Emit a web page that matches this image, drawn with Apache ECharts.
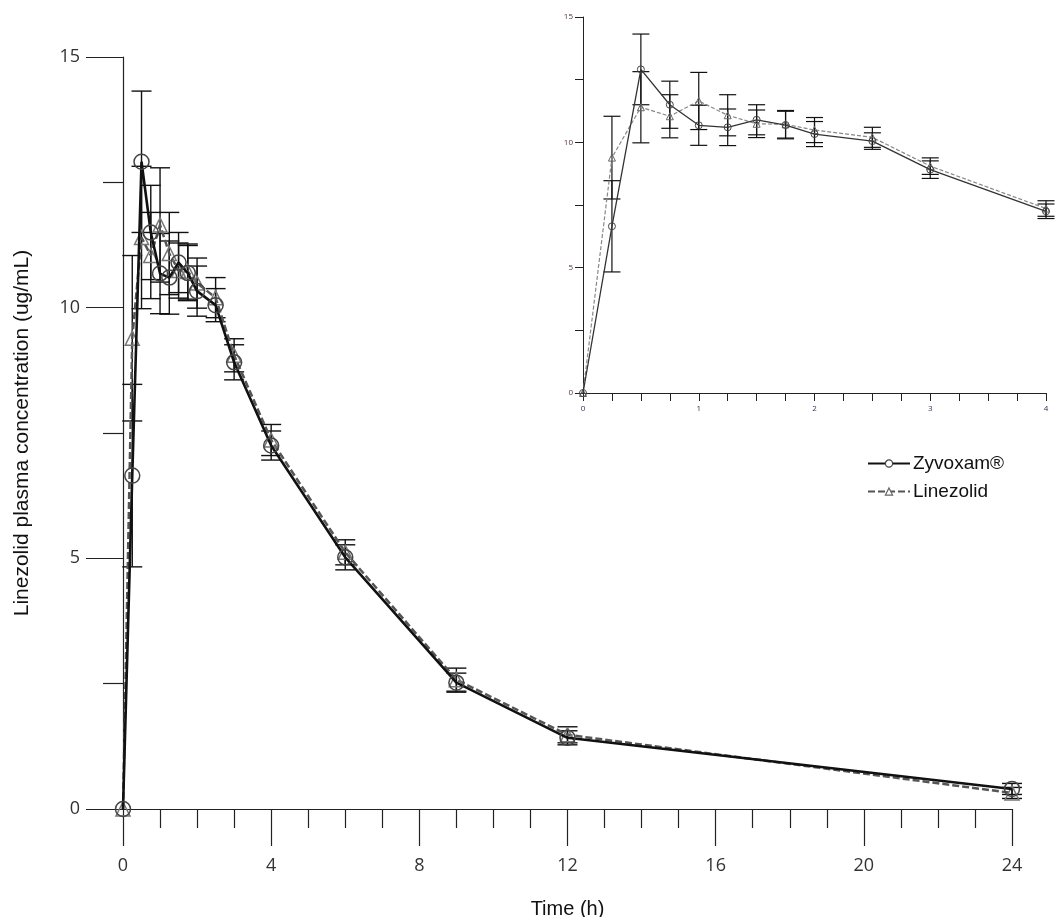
<!DOCTYPE html>
<html>
<head>
<meta charset="utf-8">
<title>Linezolid plasma concentration</title>
<script src="https://cdn.jsdelivr.net/npm/echarts@6/dist/echarts.min.js"></script>
<style>
	html, body { margin : 0; padding : 0; background : #fff; }
	#chart { width : 1061px; height : 917px; }
</style>
</head>
<body>
<div id="chart"></div>
<script>
	// sampling times (h)
	var times = [ 0, 0.25, 0.5, 0.75, 1, 1.25, 1.5, 1.75, 2, 2.5, 3, 4, 6, 9, 12, 24 ];
	// Zyvoxam mean / SD (ug/mL)
	var zyvMean = [ 0, 6.65, 12.91, 11.50, 10.68, 10.60, 10.90, 10.69, 10.33, 10.05,
			8.91, 7.25, 5.02, 2.52, 1.42, 0.40 ];
	var zyvSd = [ 0, 1.82, 1.41, 0.94, 0.80, 0.73, 0.60, 0.55, 0.50, 0.33, 0.35,
			0.29, 0.25, 0.19, 0.14, 0.11 ];
	// Linezolid mean / SD (ug/mL)
	var linMean = [ 0, 9.39, 11.40, 11.04, 11.65, 11.08, 10.74, 10.72, 10.49, 10.20,
			9.05, 7.36, 5.12, 2.58, 1.48, 0.32 ];
	var linSd = [ 0, 1.65, 1.42, 0.86, 1.14, 0.82, 0.55, 0.55, 0.50, 0.40, 0.33,
			0.31, 0.25, 0.23, 0.16, 0.11 ];
	// axis ticks
	var mainXTicks = [ 0, 4, 8, 12, 16, 20, 24 ];
	var mainYTicks = [ 0, 5, 10, 15 ];
	var insetXTicks = [ 0, 1, 2, 3, 4 ];
	var insetYTicks = [ 0, 5, 10, 15 ];
	var insetMaxTime = 4;

	var fontMain = 'Open Sans';
	var fontTitle = 'Liberation Sans';

	function points(mean, maxT) {
		var out = [];
		for (var i = 0; i < times.length; i++) {
			if (maxT == null || times[i] <= maxT) {
				out.push([ times[i], mean[i] ]);
			}
		}
		return out;
	}

	function bars(mean, sd, maxT) {
		var out = [];
		for (var i = 0; i < times.length; i++) {
			if (sd[i] > 0 && (maxT == null || times[i] <= maxT)) {
				out.push([ times[i], mean[i] - sd[i], mean[i] + sd[i] ]);
			}
		}
		return out;
	}

	/**
	 * error bar with caps, drawn through the axis scales
	 */
	function errorBarRenderer(capWidth, lineWidth) {
		return function(params, api) {
			var x = api.value(0);
			var top = api.coord([ x, api.value(2) ]);
			var bot = api.coord([ x, api.value(1) ]);
			var hw = capWidth / 2;
			var style = {
				stroke : '#111',
				lineWidth : lineWidth
			};
			return {
				type : 'group',
				children : [ {
					type : 'line',
					shape : { x1 : top[0], y1 : top[1], x2 : bot[0], y2 : bot[1] },
					style : style
				}, {
					type : 'line',
					shape : { x1 : top[0] - hw, y1 : top[1], x2 : top[0] + hw, y2 : top[1] },
					style : style
				}, {
					type : 'line',
					shape : { x1 : bot[0] - hw, y1 : bot[1], x2 : bot[0] + hw, y2 : bot[1] },
					style : style
				} ]
			};
		};
	}

	function tickFormatter(list) {
		return function(v) {
			for (var i = 0; i < list.length; i++) {
				if (Math.abs(list[i] - v) < 1e-6) {
					return String(list[i]);
				}
			}
			return '';
		};
	}

	var chart = echarts.init(document.getElementById('chart'));

	var option = {
		animation : false,
		backgroundColor : '#fff',
		legend : {
			left : 862,
			top : 449,
			orient : 'vertical',
			itemWidth : 42,
			itemHeight : 9,
			itemGap : 9,
			data : [ {
				name : 'Zyvoxam®',
				itemStyle : { color : '#fff', borderColor : '#444', borderWidth : 1.2 }
			}, {
				name : 'Linezolid',
				itemStyle : { color : '#fff', borderColor : '#666', borderWidth : 1.2 }
			} ],
			textStyle : {
				fontFamily : fontTitle,
				fontSize : 19,
				color : '#111',
				padding : [ 0, 0, 0, -2 ]
			}
		},
		grid : [ {
			left : 123,
			right : 49,
			top : 57,
			bottom : 108,
			outerBoundsMode : 'none'
		}, {
			left : 583,
			right : 15,
			top : 17,
			bottom : 524,
			outerBoundsMode : 'none'
		} ],
		xAxis : [ {
			gridIndex : 0,
			type : 'value',
			min : 0,
			max : 24,
			interval : 4,
			name : 'Time (h)',
			nameLocation : 'middle',
			nameGap : 90,
			nameTextStyle : {
				fontFamily : fontTitle,
				fontSize : 20,
				color : '#111'
			},
			axisLine : { lineStyle : { color : '#222', width : 1.2 } },
			axisTick : { length : 37, lineStyle : { color : '#222', width : 1.2 } },
			minorTick : { show : true, splitNumber : 4, length : 19,
				lineStyle : { color : '#222', width : 1.2 } },
			splitLine : { show : false },
			axisLabel : {
				margin : 48,
				fontFamily : fontMain,
				fontSize : 18,
				color : '#333',
				formatter : tickFormatter(mainXTicks)
			}
		}, {
			gridIndex : 1,
			type : 'value',
			min : 0,
			max : insetMaxTime,
			interval : 0.25,
			axisLine : { lineStyle : { color : '#222', width : 1 } },
			axisTick : { length : 8, lineStyle : { color : '#222', width : 1 } },
			splitLine : { show : false },
			axisLabel : {
				margin : 12,
				fontFamily : fontMain,
				fontSize : 8,
				color : '#335',
				formatter : tickFormatter(insetXTicks)
			}
		} ],
		yAxis : [ {
			gridIndex : 0,
			type : 'value',
			min : 0,
			max : 15,
			interval : 5,
			name : 'Linezolid plasma concentration (ug/mL)',
			nameLocation : 'middle',
			nameGap : 90,
			nameTextStyle : {
				fontFamily : fontTitle,
				fontSize : 21,
				color : '#111'
			},
			axisLine : { show : true, lineStyle : { color : '#222', width : 1.2 } },
			axisTick : { show : true, length : 37, lineStyle : { color : '#222', width : 1.2 } },
			minorTick : { show : true, splitNumber : 2, length : 20,
				lineStyle : { color : '#222', width : 1.2 } },
			splitLine : { show : false },
			axisLabel : {
				margin : 43,
				fontFamily : fontMain,
				fontSize : 18,
				color : '#333',
				formatter : tickFormatter(mainYTicks)
			}
		}, {
			gridIndex : 1,
			type : 'value',
			min : 0,
			max : 15,
			interval : 2.5,
			axisLine : { show : true, lineStyle : { color : '#222', width : 1 } },
			axisTick : { show : true, length : 8, lineStyle : { color : '#222', width : 1 } },
			splitLine : { show : false },
			axisLabel : {
				margin : 10,
				fontFamily : fontMain,
				fontSize : 8,
				color : '#533',
				formatter : tickFormatter(insetYTicks)
			}
		} ],
		series : [
		// main chart
		{
			name : 'zyv-err',
			type : 'custom',
			xAxisIndex : 0,
			yAxisIndex : 0,
			renderItem : errorBarRenderer(20, 1.4),
			encode : { x : 0, y : [ 1, 2 ] },
			data : bars(zyvMean, zyvSd),
			z : 1
		}, {
			name : 'lin-err',
			type : 'custom',
			xAxisIndex : 0,
			yAxisIndex : 0,
			renderItem : errorBarRenderer(20, 1.4),
			encode : { x : 0, y : [ 1, 2 ] },
			data : bars(linMean, linSd),
			z : 1
		}, {
			name : 'Linezolid',
			type : 'line',
			xAxisIndex : 0,
			yAxisIndex : 0,
			symbol : 'triangle',
			symbolSize : 14,
			itemStyle : { color : 'rgba(255,255,255,0)', borderColor : '#777', borderWidth : 1.5 },
			lineStyle : { color : '#555', width : 2.5, type : [ 7, 3 ] },
			data : points(linMean),
			z : 2
		}, {
			name : 'Zyvoxam®',
			type : 'line',
			xAxisIndex : 0,
			yAxisIndex : 0,
			symbol : 'circle',
			symbolSize : 15,
			itemStyle : { color : 'rgba(255,255,255,0)', borderColor : '#444', borderWidth : 1.5 },
			lineStyle : { color : '#111', width : 2.6 },
			data : points(zyvMean),
			z : 3
		},
		// inset 0 - 4 h
		{
			name : 'zyv-err-inset',
			type : 'custom',
			xAxisIndex : 1,
			yAxisIndex : 1,
			renderItem : errorBarRenderer(17, 1.2),
			encode : { x : 0, y : [ 1, 2 ] },
			data : bars(zyvMean, zyvSd, insetMaxTime),
			z : 1
		}, {
			name : 'lin-err-inset',
			type : 'custom',
			xAxisIndex : 1,
			yAxisIndex : 1,
			renderItem : errorBarRenderer(17, 1.2),
			encode : { x : 0, y : [ 1, 2 ] },
			data : bars(linMean, linSd, insetMaxTime),
			z : 1
		}, {
			name : 'Linezolid',
			type : 'line',
			xAxisIndex : 1,
			yAxisIndex : 1,
			symbol : 'triangle',
			symbolSize : 7,
			itemStyle : { color : 'rgba(255,255,255,0)', borderColor : '#666', borderWidth : 1 },
			lineStyle : { color : '#888', width : 1.2, type : [ 4, 2 ] },
			data : points(linMean, insetMaxTime),
			z : 2
		}, {
			name : 'Zyvoxam®',
			type : 'line',
			xAxisIndex : 1,
			yAxisIndex : 1,
			symbol : 'circle',
			symbolSize : 7,
			itemStyle : { color : 'rgba(255,255,255,0)', borderColor : '#444', borderWidth : 1 },
			lineStyle : { color : '#333', width : 1.3 },
			data : points(zyvMean, insetMaxTime),
			z : 3
		} ]
	};

	chart.setOption(option);
</script>
</body>
</html>
